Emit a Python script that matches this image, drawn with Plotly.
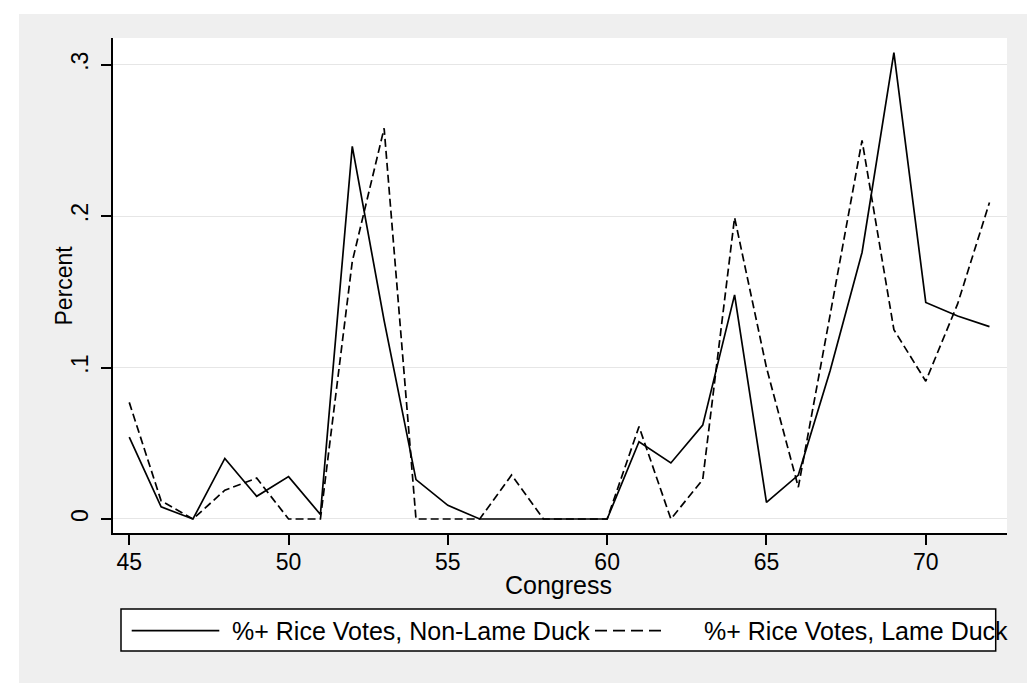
import plotly.graph_objects as go

# ---- data ----
congress = list(range(45, 73))
non_lame_duck = [0.054, 0.008, 0.000, 0.040, 0.015, 0.028, 0.003, 0.246, 0.131, 0.026,
                 0.009, 0.000, 0.000, 0.000, 0.000, 0.000, 0.051, 0.037, 0.062, 0.148,
                 0.011, 0.029, 0.098, 0.176, 0.308, 0.143, 0.134, 0.127]
lame_duck = [0.077, 0.012, 0.000, 0.019, 0.027, 0.000, 0.000, 0.170, 0.258, 0.000,
             0.000, 0.000, 0.029, 0.000, 0.000, 0.000, 0.061, 0.000, 0.026, 0.199,
             0.100, 0.021, 0.135, 0.250, 0.125, 0.091, 0.142, 0.209]
x_ticks = [45, 50, 55, 60, 65, 70]
y_ticks = [0, 0.1, 0.2, 0.3]
y_tick_labels = ["0", ".1", ".2", ".3"]
series_names = ["%+ Rice Votes, Non-Lame Duck", "%+ Rice Votes, Lame Duck"]

# page body has an 8px margin, so the figure is laid out 8px in from the window edge
OFF = 8
SCREEN_W, SCREEN_H = 1035, 696
PLOT_L, PLOT_R, PLOT_T, PLOT_B = 113, 1007, 38, 533   # plot area in window pixels
W, H = SCREEN_W - OFF, SCREEN_H - OFF
L, T = PLOT_L - OFF, PLOT_T - OFF
R, B = W - (PLOT_R - OFF), H - (PLOT_B - OFF)
PW, PH = PLOT_R - PLOT_L, PLOT_B - PLOT_T
FONT = "Liberation Sans, Arial, sans-serif"
GRAY = "#efefef"
LW = 1.7


def px(xpix):
    return (xpix - PLOT_L) / PW


def py(ypix):
    return (PLOT_B - ypix) / PH


fig = go.Figure()
fig.add_trace(go.Scatter(x=congress, y=non_lame_duck, mode="lines", name=series_names[0],
                         line=dict(color="black", width=LW), showlegend=False))
fig.add_trace(go.Scatter(x=congress, y=lame_duck, mode="lines", name=series_names[1],
                         line=dict(color="black", width=LW, dash="8px,4px"), showlegend=False))

shapes = []
# white outer margins around the gray graph region
for x0, x1, y0, y1 in [(-10, 19, -10, SCREEN_H + 10), (-10, SCREEN_W + 10, -10, 14),
                       (1032.7, SCREEN_W + 10, -10, SCREEN_H + 10),
                       (-10, SCREEN_W + 10, 683, SCREEN_H + 10)]:
    shapes.append(dict(type="rect", xref="paper", yref="paper", x0=px(x0), x1=px(x1),
                       y0=py(y1), y1=py(y0), fillcolor="white", line_width=0, layer="below"))
# legend box
shapes.append(dict(type="rect", xref="paper", yref="paper", x0=px(121), x1=px(995.7),
                   y0=py(651), y1=py(609), fillcolor="white",
                   line=dict(color="black", width=1.5), layer="above"))
# legend samples
shapes.append(dict(type="line", xref="paper", yref="paper", x0=px(131.7), x1=px(219.3),
                   y0=py(630.7), y1=py(630.7), line=dict(color="black", width=LW), layer="above"))
shapes.append(dict(type="line", xref="paper", yref="paper", x0=px(595), x1=px(665),
                   y0=py(630.7), y1=py(630.7),
                   line=dict(color="black", width=LW, dash="12px,6px"), layer="above"))

annotations = [
    dict(text=series_names[0], xref="paper", yref="paper", x=px(230), y=py(631),
         xanchor="left", yanchor="middle", showarrow=False, font=dict(size=25)),
    dict(text=series_names[1], xref="paper", yref="paper", x=px(702), y=py(631),
         xanchor="left", yanchor="middle", showarrow=False, font=dict(size=25)),
    dict(text="Congress", xref="paper", yref="paper", x=px(558.5), y=py(585),
         xanchor="center", yanchor="middle", showarrow=False, font=dict(size=25)),
    dict(text="Percent", xref="paper", yref="paper", x=px(63), y=py(285.5), textangle=-90,
         xanchor="center", yanchor="middle", showarrow=False, font=dict(size=23)),
]

fig.update_layout(
    width=W, height=H,
    margin=dict(l=L, r=R, t=T, b=B, pad=0),
    paper_bgcolor=GRAY, plot_bgcolor="white",
    font=dict(family=FONT, color="black", size=23),
    shapes=shapes, annotations=annotations, showlegend=False,
)
fig.update_xaxes(range=[44.49, 72.55], tickvals=x_ticks, ticks="outside", ticklen=10,
                 tickwidth=1.5, tickcolor="black", showline=True, linecolor="black",
                 linewidth=2, showgrid=False, zeroline=False, tickfont=dict(size=23),
                 ticklabelstandoff=-3)
fig.update_yaxes(range=[-0.00925, 0.3176], tickvals=y_ticks, ticktext=y_tick_labels,
                 tickangle=-90, ticks="outside", ticklen=10, tickwidth=1.5, tickcolor="black",
                 showline=True, linecolor="black", linewidth=2, showgrid=True,
                 gridcolor="#e6e6e6", gridwidth=1, zeroline=False, tickfont=dict(size=23),
                 ticklabelstandoff=4)

fig.write_html("out.html")
